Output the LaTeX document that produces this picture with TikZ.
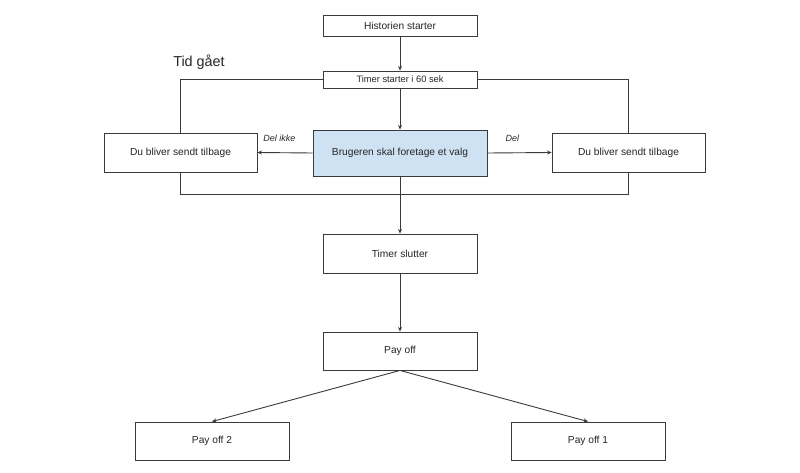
\documentclass[tikz,border=0pt]{standalone}
\usepackage{fontspec}
\setmainfont{Liberation Sans}
\usetikzlibrary{arrows.meta}
\definecolor{linec}{HTML}{3A3A3A}
\definecolor{boxblue}{HTML}{CFE2F3}
\tikzset{
  box/.style={draw=linec, line width=0.9pt, fill=white, minimum width=154pt, minimum height=39pt, inner sep=0pt, font=\fontsize{10.2}{12}\selectfont, text=black!85},
  conn/.style={draw=linec, line width=0.9pt},
  arr/.style={conn, -{Stealth[length=4.5pt,width=4pt]}},
  lbl/.style={font=\fontsize{9}{11}\selectfont\itshape, text=black!85, inner sep=0pt}
}
\begin{document}
\begin{tikzpicture}[x=1pt,y=-1pt]
\useasboundingbox (0,0) rectangle (800,473);
\node[box, minimum height=21pt] (hist) at (400,25.5) {Historien starter};
\node[box, minimum height=17pt, font=\fontsize{9.3}{11}\selectfont] (timer) at (400,79.5) {Timer starter i 60 sek};
\node[font=\fontsize{14.4}{17}\selectfont, text=black!85, inner sep=0pt] (tid) at (199,62) {Tid gået};
\node[box, minimum width=153pt] (left) at (180.5,152.5) {Du bliver sendt tilbage};
\node[box, fill=boxblue, minimum width=174pt, minimum height=46pt] (center) at (400,153) {Brugeren skal foretage et valg};
\node[box, minimum width=153pt] (right) at (628.5,152.5) {Du bliver sendt tilbage};
\node[box] (slutter) at (400,253.5) {Timer slutter};
\node[box, minimum height=38pt] (payoff) at (400,351) {Pay off};
\node[box, minimum height=38pt] (p2) at (212,441) {Pay off 2};
\node[box, minimum height=38pt] (p1) at (588,441) {Pay off 1};
\coordinate (bl) at (180.5,194);
\coordinate (br) at (628.5,194);
\draw[arr] (hist) -- (timer);
\draw[arr] (timer) -- (center);
\draw[conn] (timer.west) -| (left.north);
\draw[conn] (timer.east) -| (right.north);
\draw[conn] (left.south) -- (bl) -- (br) -- (right.south);
\draw[arr] (center.west) -- node[lbl, pos=0.6, above=11pt] {Del ikke} (left.east);
\draw[arr] (center.east) -- node[lbl, pos=0.39, above=11pt] {Del} (right.west);
\draw[arr] (center) -- (slutter);
\draw[arr] (slutter) -- (payoff);
\draw[arr] (payoff.south) -- (p2.north);
\draw[arr] (payoff.south) -- (p1.north);
\end{tikzpicture}
\end{document}
